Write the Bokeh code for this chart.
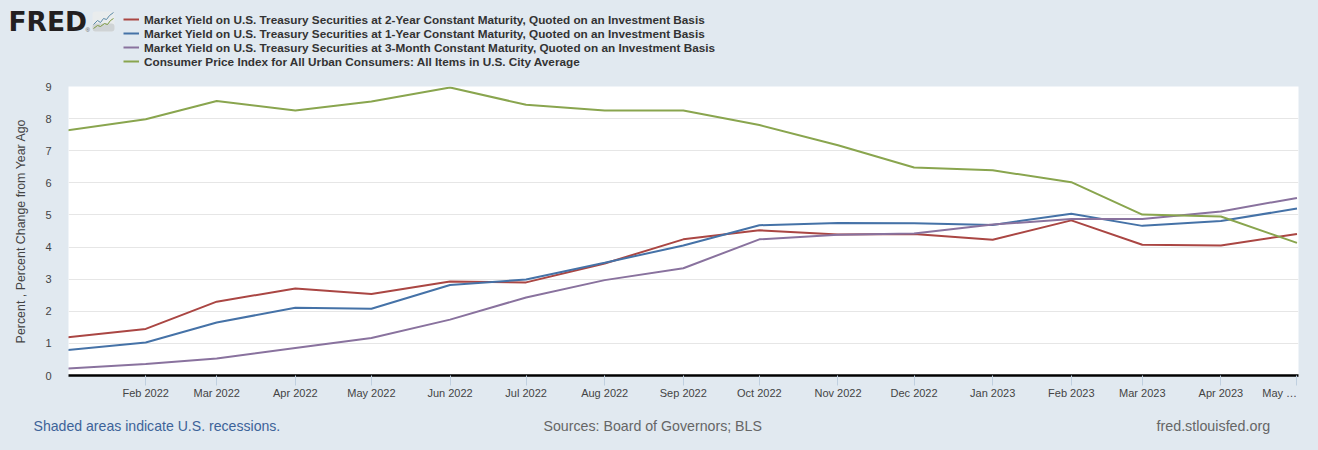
from datetime import datetime
from bokeh.embed import file_html
from bokeh.layouts import column
from bokeh.resources import INLINE
from bokeh.plotting import figure
from bokeh.models import (DatetimeTickFormatter, FixedTicker, Label, Legend, LegendItem, Range1d)

BG = "#e1e9f0"
months = ["2022-01-01", "2022-02-01", "2022-03-01", "2022-04-01", "2022-05-01", "2022-06-01",
          "2022-07-01", "2022-08-01", "2022-09-01", "2022-10-01", "2022-11-01", "2022-12-01",
          "2023-01-01", "2023-02-01", "2023-03-01", "2023-04-01", "2023-05-01"]
two_year = [1.19, 1.45, 2.30, 2.71, 2.54, 2.93, 2.90, 3.49, 4.24, 4.52, 4.39, 4.41, 4.23, 4.83, 4.07, 4.05, 4.41]
one_year = [0.79, 1.03, 1.65, 2.11, 2.08, 2.82, 2.99, 3.51, 4.05, 4.68, 4.75, 4.74, 4.69, 5.04, 4.66, 4.81, 5.20]
three_month = [0.22, 0.36, 0.53, 0.86, 1.17, 1.74, 2.43, 2.97, 3.34, 4.24, 4.38, 4.42, 4.70, 4.87, 4.87, 5.11, 5.53]
cpi = [7.63, 7.98, 8.55, 8.25, 8.53, 8.97, 8.43, 8.25, 8.25, 7.80, 7.17, 6.48, 6.39, 6.02, 5.01, 4.95, 4.13]

series = [
    ("Market Yield on U.S. Treasury Securities at 2-Year Constant Maturity, Quoted on an Investment Basis", two_year, "#aa4643"),
    ("Market Yield on U.S. Treasury Securities at 1-Year Constant Maturity, Quoted on an Investment Basis", one_year, "#4572a7"),
    ("Market Yield on U.S. Treasury Securities at 3-Month Constant Maturity, Quoted on an Investment Basis", three_month, "#89729e"),
    ("Consumer Price Index for All Urban Consumers: All Items in U.S. City Average", cpi, "#89a54e"),
]
dates = [datetime.fromisoformat(m) for m in months]
ms = [d.timestamp() * 1000 for d in dates]
DAY = 86400000
W = 1318
HEAD, BODY, FOOT = 70, 340, 40
FONT = "Liberation Sans"


def strip(height):
    """A chartless band of the page, whose data coordinates are its pixels (y measured downward)."""
    f = figure(width=W, height=height, output_backend="svg", toolbar_location=None,
               x_range=Range1d(0, W), y_range=Range1d(height, 0),
               background_fill_color=BG, border_fill_color=BG, outline_line_color=None,
               min_border_left=0, min_border_right=0, min_border_top=0, min_border_bottom=0,
               frame_align=False)
    f.axis.visible = False
    f.grid.visible = False
    return f


def note(f, x, y, text, **kw):
    kw.setdefault("text_font", FONT)
    f.add_layout(Label(x=x, y=y, text=text, text_baseline="middle", **kw))


# header: logo and legend
head = strip(HEAD)
note(head, 8, 21, "FRED", text_font="DejaVu Sans", text_font_size="26.5px", text_font_style="bold", text_color="#231f20")
note(head, 85, 29.5, "®", text_font_size="6px", text_color="#555555")
head.quad(left=[92], right=[114], top=[11], bottom=[31], fill_color="#e9eced", line_color=None, border_radius=3)
head.quad(left=[92], right=[114], top=[23], bottom=[31], fill_color="#cfd3d5", line_color=None, border_radius=3)
head.line(x=[93, 97, 100, 103, 106, 109, 113], y=[24, 20, 22, 18, 19, 15, 12], line_color="#5b8aa8", line_width=1)
head.line(x=[93, 97, 100, 104, 107, 110, 113], y=[28, 25, 26, 23, 24, 20, 18], line_color="#7d9a40", line_width=1)

# the swatches need a renderer with points; these lie off the band and only lend the legend their style
items = [LegendItem(label=name, renderers=[head.line(x=[-20, -10], y=[-20, -20], line_color=color, line_width=2)])
         for name, _, color in series]
legend = Legend(items=items, location=(123, 2), orientation="vertical", background_fill_alpha=0,
                border_line_color=None, label_text_font=FONT, label_text_font_style="bold",
                label_text_font_size="11.75px", label_text_color="#333333", glyph_width=16, glyph_height=14,
                label_height=14, label_standoff=5, spacing=0, padding=0, margin=0)
head.add_layout(legend)

# chart
p = figure(width=W, height=BODY, output_backend="svg", toolbar_location=None, x_axis_type="datetime",
           background_fill_color="white", border_fill_color=BG, outline_line_color=None,
           min_border_left=68, min_border_right=20, min_border_top=16, min_border_bottom=35,
           frame_align=False,
           x_range=Range1d(ms[0] + 0.55 * DAY, ms[-1] + 0.6 * DAY), y_range=Range1d(0, 9))
p.xgrid.visible = False
p.ygrid.grid_line_color = "#e6e6e6"
p.ygrid.grid_line_width = 1
p.xaxis.ticker = FixedTicker(ticks=ms[1:])
p.xaxis.formatter = DatetimeTickFormatter(months="%b %Y", days="%b %Y", hours="%b %Y")
p.xaxis.major_label_overrides = {ms[-1]: "May …" + "\u00a0" * 7}
p.xaxis.axis_line_color = "black"
p.xaxis.axis_line_width = 2.5
p.xaxis.major_tick_line_color = "#c0d0e0"
p.xaxis.major_tick_in = 0
p.xaxis.major_tick_out = 10
p.xaxis.minor_tick_line_color = None
p.xaxis.major_label_text_font = FONT
p.xaxis.major_label_text_font_size = "11px"
p.xaxis.major_label_text_color = "#444444"
p.xaxis.major_label_standoff = 1
p.yaxis.ticker = FixedTicker(ticks=list(range(0, 10)))
p.yaxis.axis_line_color = None
p.yaxis.major_tick_line_color = None
p.yaxis.minor_tick_line_color = None
p.yaxis.major_label_text_font = FONT
p.yaxis.major_label_text_font_size = "11px"
p.yaxis.major_label_text_color = "#444444"
p.yaxis.major_label_standoff = 11
p.yaxis.axis_label = "Percent , Percent Change from Year Ago"
p.yaxis.axis_label_text_font = FONT
p.yaxis.axis_label_text_font_style = "normal"
p.yaxis.axis_label_text_font_size = "12.4px"
p.yaxis.axis_label_text_color = "#444444"
p.yaxis.axis_label_standoff = 14

for name, values, color in series:
    p.line(x=dates, y=values, line_color=color, line_width=2)

# footer
foot = strip(FOOT)
note(foot, 33, 15, "Shaded areas indicate U.S. recessions.", text_font_size="14.1px", text_color="#3d6399")
note(foot, 543, 15, "Sources: Board of Governors; BLS", text_font_size="14.2px", text_color="#666666")
note(foot, 1156, 15, "fred.stlouisfed.org", text_font_size="14.3px", text_color="#666666")

page = column(head, p, foot, spacing=0)
html = file_html(page, INLINE)
html = html.replace("</head>", "<style>body{background:" + BG + ";}</style></head>", 1)
open("out.html", "w").write(html)
